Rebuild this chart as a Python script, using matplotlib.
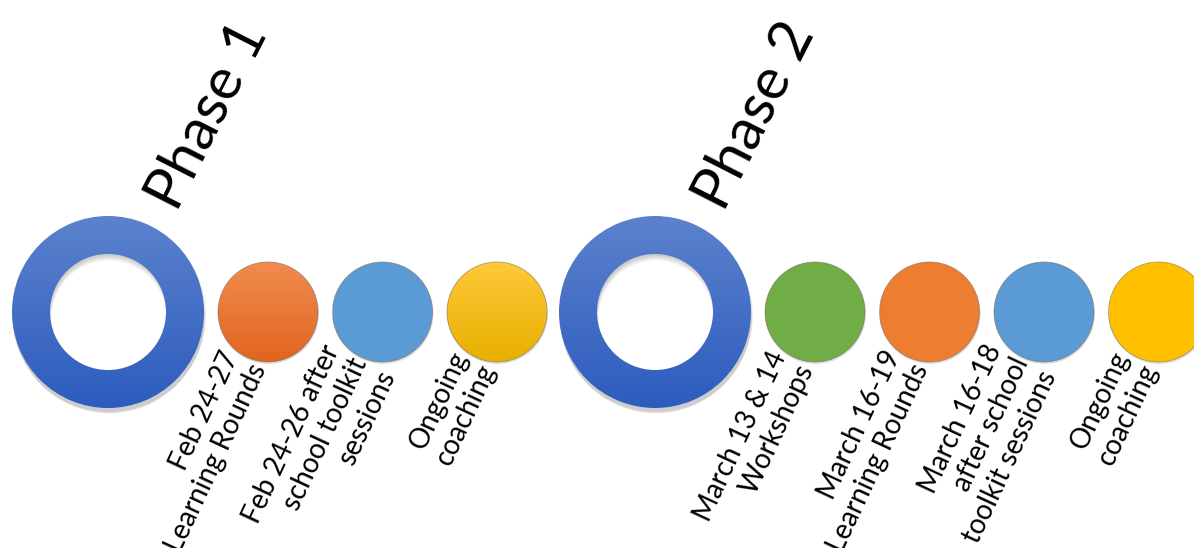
import numpy as np
import matplotlib
matplotlib.use("Agg")
import matplotlib.pyplot as plt
from matplotlib.patches import Wedge, Circle
from matplotlib.colors import LinearSegmentedColormap

# ---- data ----
phase_titles = ["Phase 1", "Phase 2"]
phase1_events = ["Feb 24-27\nLearning Rounds",
                 "Feb 24-26 after\nschool toolkit\nsessions",
                 "Ongoing\ncoaching"]
phase2_events = ["March 13 & 14\nWorkshops",
                 "March 16-19\nLearning Rounds",
                 "March 16-18\nafter school\ntoolkit sessions",
                 "Ongoing\ncoaching"]

# ---- styles ----
phase1_colors = [("#F08C50", "#E0651F"), ("#5B9BD5", "#5B9BD5"), ("#FFC93A", "#E8AF00")]
phase2_colors = [("#70AD47", "#70AD47"), ("#ED7D31", "#ED7D31"),
                 ("#5B9BD5", "#5B9BD5"), ("#FFC000", "#FFC000")]
ring_colors = ("#5C82CD", "#2D5CBE")

W, H = 1194, 548
fig = plt.figure(figsize=(W / 100, H / 100), dpi=100)
ax = fig.add_axes([0, 0, 1, 1])
ax.set_xlim(0, W)
ax.set_ylim(H, 0)
ax.axis("off")

FONT = ["Lato", "DejaVu Sans"]
cy = 312
ring_x = [108, 655]
R_out, R_in = 96, 58
r_small = 50
first_gap = 160
step = 114.5


def gradient_fill(patch, top, bottom, x0, x1, y0, y1, z):
    cmap = LinearSegmentedColormap.from_list("g", [top, bottom])
    grad = np.linspace(0, 1, 256).reshape(-1, 1)
    im = ax.imshow(grad, cmap=cmap, extent=(x0, x1, y1, y0), aspect="auto",
                   zorder=z, interpolation="bilinear")
    im.set_clip_path(patch)


for p, (title, events, cols) in enumerate(zip(phase_titles,
                                              [phase1_events, phase2_events],
                                              [phase1_colors, phase2_colors])):
    rx = ring_x[p]
    # shadow
    for k in range(4):
        sh = Wedge((rx + 1, cy + 3 + k), R_out + 1 - k * 0.5, 0, 360, width=R_out - R_in,
                   facecolor="black", edgecolor="none", alpha=0.05, zorder=1)
        ax.add_patch(sh)
    ring = Wedge((rx, cy), R_out, 0, 360, width=R_out - R_in,
                 facecolor="none", edgecolor="none", zorder=2)
    ax.add_patch(ring)
    gradient_fill(ring, ring_colors[0], ring_colors[1],
                  rx - R_out, rx + R_out, cy - R_out, cy + R_out, 2)
    ax.text(rx + 69, cy - 99, title, rotation=63, rotation_mode="anchor",
            ha="left", va="baseline", fontsize=42, family=FONT, color="black", zorder=5)

    for i, (lab, (c_top, c_bot)) in enumerate(zip(events, cols)):
        cx = rx + first_gap + i * step
        shadow = Circle((cx + 0.5, cy + 1.5), r_small + 0.5, facecolor="black",
                        edgecolor="none", alpha=0.12, zorder=1)
        ax.add_patch(shadow)
        circ = Circle((cx, cy), r_small, facecolor="none", edgecolor="none", zorder=3)
        ax.add_patch(circ)
        gradient_fill(circ, c_top, c_bot, cx - r_small, cx + r_small,
                      cy - r_small, cy + r_small, 3)
        ax.add_patch(Circle((cx, cy), r_small, facecolor="none", edgecolor="#7a6a5a",
                            linewidth=0.6, alpha=0.6, zorder=4))
        ax.text(cx - 22, cy + 47, lab, rotation=65, rotation_mode="anchor",
                ha="right", va="center", multialignment="right",
                fontsize=20, linespacing=1.22, family=FONT, color="black", zorder=5)

fig.savefig("out.png", dpi=100)
